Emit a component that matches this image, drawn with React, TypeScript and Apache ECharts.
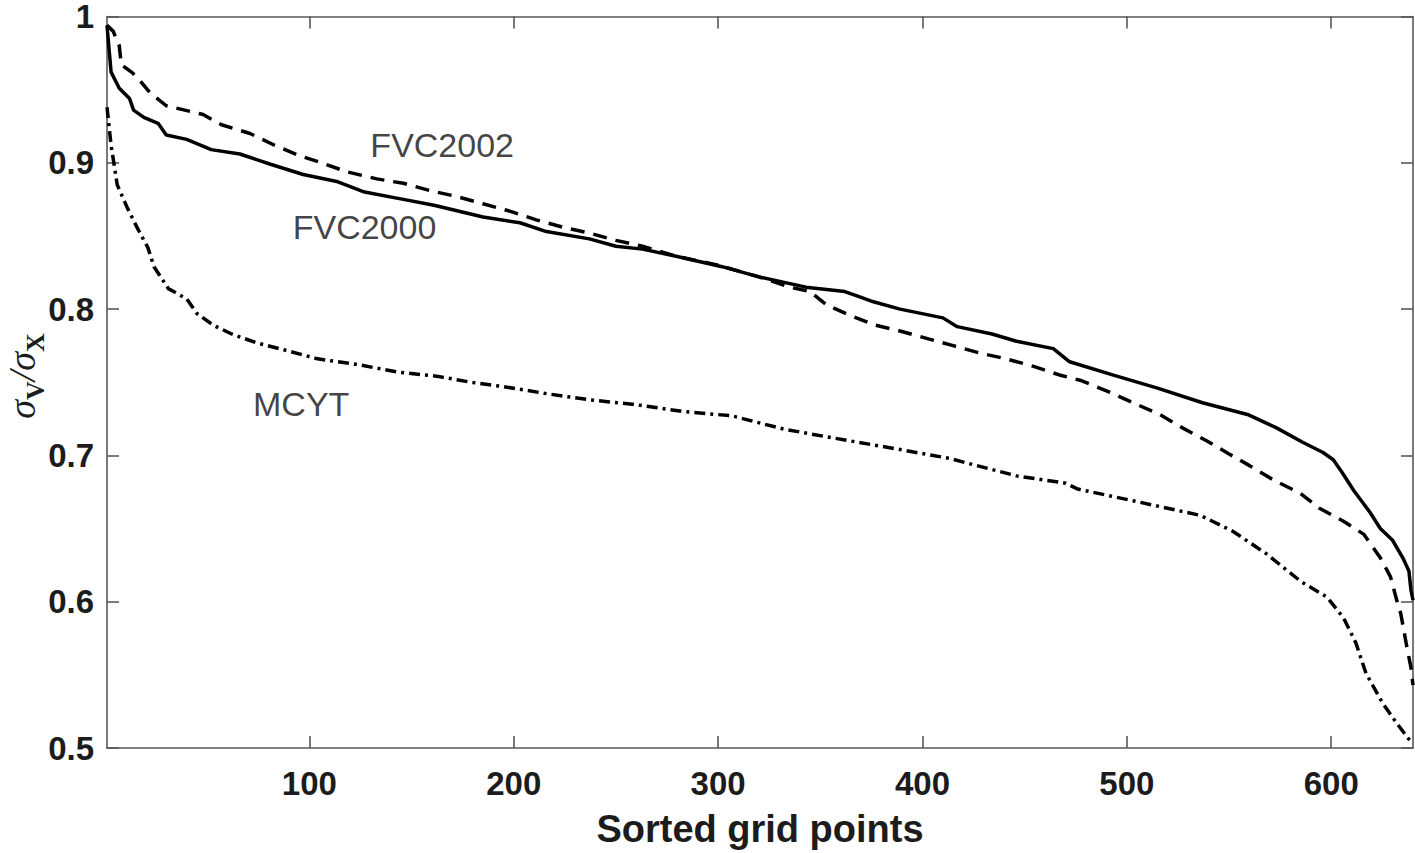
import React, { useEffect, useRef } from "react";
import * as echarts from "echarts";

const fvc2000: [number, number][] = [
  [1, 0.994], [3, 0.962], [7, 0.951], [12, 0.944], [14, 0.936], [19, 0.931], [26, 0.927], [30, 0.919],
  [40, 0.916], [52, 0.909], [66, 0.906], [81, 0.899], [97, 0.892], [114, 0.887], [127, 0.88], [146, 0.875],
  [161, 0.871], [185, 0.863], [203, 0.859], [216, 0.853], [237, 0.848], [250, 0.843], [263, 0.841],
  [280, 0.836], [302, 0.829], [320, 0.822], [343, 0.815], [362, 0.812], [370, 0.808], [376, 0.805], [389, 0.8],
  [410, 0.794], [417, 0.788], [434, 0.783], [446, 0.778], [464, 0.773], [472, 0.764], [493, 0.755],
  [515, 0.746], [537, 0.736], [559, 0.728], [573, 0.719], [586, 0.709], [596, 0.702], [601, 0.697], [605, 0.689],
  [611, 0.676], [619, 0.661], [624, 0.65], [630, 0.642], [635, 0.63], [638, 0.621], [639, 0.608], [640, 0.601],
];

const fvc2002: [number, number][] = [
  [1, 0.994], [4, 0.99], [7, 0.98], [8, 0.967], [13, 0.962], [16, 0.958], [22, 0.948], [30, 0.939],
  [48, 0.933], [57, 0.926], [71, 0.92], [83, 0.912], [95, 0.905], [106, 0.9], [118, 0.894], [133, 0.889],
  [146, 0.886], [159, 0.881], [172, 0.877], [185, 0.872], [198, 0.867], [211, 0.861], [224, 0.856],
  [237, 0.852], [250, 0.847], [263, 0.843], [280, 0.836], [300, 0.83], [320, 0.822], [335, 0.815],
  [345, 0.812], [353, 0.803], [364, 0.796], [377, 0.789], [389, 0.785], [402, 0.78], [415, 0.775],
  [428, 0.77], [441, 0.766], [454, 0.761], [467, 0.755], [478, 0.751], [492, 0.743], [503, 0.736],
  [516, 0.728], [527, 0.719], [539, 0.71], [550, 0.701], [560, 0.693], [572, 0.683], [585, 0.674],
  [594, 0.664], [606, 0.655], [616, 0.646], [624, 0.63], [629, 0.617], [633, 0.596], [634, 0.592],
  [637, 0.569], [639, 0.555], [640, 0.543],
];

const mcyt: [number, number][] = [
  [1, 0.938], [3, 0.912], [6, 0.885], [11, 0.869], [16, 0.855], [21, 0.842], [24, 0.829], [31, 0.814],
  [40, 0.807], [45, 0.797], [53, 0.789], [62, 0.783], [74, 0.777], [88, 0.772], [104, 0.766], [124, 0.762],
  [143, 0.757], [163, 0.754], [179, 0.75], [195, 0.747], [217, 0.742], [237, 0.738], [258, 0.735],
  [283, 0.73], [307, 0.727], [332, 0.718], [356, 0.712], [389, 0.704], [413, 0.698], [446, 0.686],
  [470, 0.681], [476, 0.677], [503, 0.669], [536, 0.659], [552, 0.648], [568, 0.633], [585, 0.614],
  [598, 0.603], [606, 0.589], [612, 0.572], [617, 0.551], [625, 0.531], [632, 0.517], [638, 0.506], [640, 0.503],
];

const annotationNames = ["FVC2002", "FVC2000", "MCYT"];
const annotationX = [165, 127, 96];
const annotationY = [0.912, 0.856, 0.735];

const xTicks = [100, 200, 300, 400, 500, 600];
const xMin = 1;
const xMax = 640;
const yMin = 0.5;
const yMax = 1;
const yStep = 0.1;
const xTitle = "Sorted grid points";

const axisColor = "#595959";
const textColor = "#1c1c1c";

export default function App() {
  const ref = useRef<HTMLDivElement>(null);
  useEffect(() => {
    document.body.style.margin = "0";
    const chart = echarts.init(ref.current!, null, { renderer: "svg" });
    const boxAxisLine = { show: true, lineStyle: { color: axisColor, width: 1.6 } };
    const tickStyle = { lineStyle: { color: axisColor, width: 1.6 } };
    const tickFont = {
      fontFamily: "Liberation Sans, Arial, sans-serif",
      fontWeight: "bold" as const,
      fontSize: 33,
      lineHeight: 22,
      color: textColor,
    };
    chart.setOption({
      animation: false,
      backgroundColor: "#ffffff",
      grid: { left: 107, right: 2, top: 13, bottom: 105, containLabel: false },
      xAxis: [
        {
          type: "value",
          position: "bottom",
          min: xMin,
          max: xMax,
          axisLine: boxAxisLine,
          axisTick: { show: true, inside: true, length: 12, customValues: xTicks, ...tickStyle },
          axisLabel: { ...tickFont, margin: 24, customValues: xTicks },
          splitLine: { show: false },
          name: xTitle,
          nameLocation: "middle",
          nameGap: 62,
          nameTextStyle: {
            fontFamily: "Liberation Sans, Arial, sans-serif",
            fontWeight: "bold",
            fontSize: 38,
            color: textColor,
          },
        },
        {
          type: "value",
          position: "top",
          min: xMin,
          max: xMax,
          axisLine: boxAxisLine,
          axisTick: { show: true, inside: true, length: 12, customValues: xTicks, ...tickStyle },
          axisLabel: { show: false },
          splitLine: { show: false },
        },
      ],
      yAxis: [
        {
          type: "value",
          position: "left",
          min: yMin,
          max: yMax,
          interval: yStep,
          axisLine: boxAxisLine,
          axisTick: { show: true, inside: true, length: 12, ...tickStyle },
          axisLabel: {
            ...tickFont,
            margin: 13,
            formatter: (v: number) => (Math.abs(v - 1) < 1e-9 ? "1" : v.toFixed(1)),
          },
          splitLine: { show: false },
        },
        {
          type: "value",
          position: "right",
          min: yMin,
          max: yMax,
          interval: yStep,
          axisLine: boxAxisLine,
          axisTick: { show: true, inside: true, length: 12, ...tickStyle },
          axisLabel: { show: false },
          splitLine: { show: false },
        },
      ],
      series: [
        {
          name: "FVC2002",
          type: "line",
          data: fvc2002,
          showSymbol: false,
          symbol: "none",
          lineStyle: { color: "#000", width: 3.5, type: [14, 9] },
        },
        {
          name: "FVC2000",
          type: "line",
          data: fvc2000,
          showSymbol: false,
          symbol: "none",
          lineStyle: { color: "#000", width: 3.5, type: "solid" },
        },
        {
          name: "MCYT",
          type: "line",
          data: mcyt,
          showSymbol: false,
          symbol: "none",
          lineStyle: { color: "#000", width: 3.5, type: [11, 5, 3, 5] },
        },
        {
          name: "annotations",
          type: "scatter",
          symbolSize: 0,
          silent: true,
          data: annotationNames.map((n, i) => ({ value: [annotationX[i], annotationY[i]], name: n })),
          label: {
            show: true,
            position: "inside",
            formatter: (p: any) => p.name,
            fontFamily: "Liberation Sans, Arial, sans-serif",
            fontSize: 34,
            color: "#111111",
          },
        },
      ],
      graphic: [
        {
          type: "text",
          x: 22,
          y: 376,
          rotation: Math.PI / 2,
          style: {
            text: "{s|σ}{b|V}{s|/σ}{b|X}",
            align: "center",
            verticalAlign: "middle",
            fill: textColor,
            rich: {
              s: {
                fontFamily: "Liberation Serif, Times New Roman, serif",
                fontStyle: "italic",
                fontSize: 38,
                lineHeight: 52,
                verticalAlign: "middle",
                fill: textColor,
              },
              b: {
                fontFamily: "Liberation Serif, Times New Roman, serif",
                fontWeight: "bold",
                fontSize: 26,
                lineHeight: 20,
                verticalAlign: "bottom",
                fill: textColor,
              },
            },
          },
        },
      ],
    });
    return () => chart.dispose();
  }, []);
  return <div ref={ref} style={{ position: "fixed", left: 0, top: 0, width: 1415, height: 853 }} />;
}
